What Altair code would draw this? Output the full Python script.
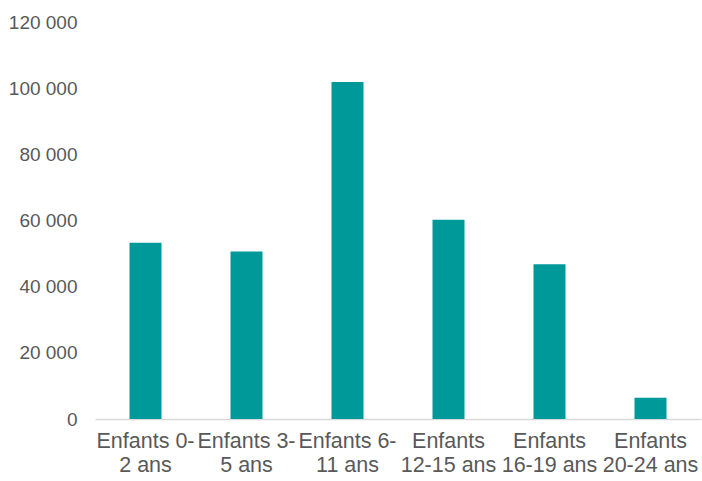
import altair as alt
import pandas as pd

categories = ["Enfants 0-\n2 ans", "Enfants 3-\n5 ans", "Enfants 6-\n11 ans",
              "Enfants\n12-15 ans", "Enfants\n16-19 ans", "Enfants\n20-24 ans"]
values = [53300, 50600, 101900, 60200, 46800, 6400]

df = pd.DataFrame({"cat": categories, "val": values})

chart = alt.Chart(df).mark_bar(color="#009999", size=32).encode(
    x=alt.X("cat:N", sort=None, title=None,
            scale=alt.Scale(paddingOuter=0, paddingInner=0),
            axis=alt.Axis(labelAngle=0, ticks=False, domainColor="#d9d9d9", domainWidth=1.5,
                          labelExpr="split(datum.label, '\\n')", labelFontSize=21.5,
                          labelLineHeight=24, labelColor="#595959", labelFont="Liberation Sans",
                          labelPadding=11, labelBaseline="top")),
    y=alt.Y("val:Q", title=None,
            scale=alt.Scale(domain=[0, 120000], nice=False),
            axis=alt.Axis(values=[0, 20000, 40000, 60000, 80000, 100000, 120000],
                          labelExpr="replace(format(datum.value, ',d'), ',', ' ')",
                          grid=False, ticks=False, domain=False, labelFontSize=19,
                          labelColor="#595959", labelFont="Liberation Sans", labelPadding=18))
).properties(
    width=606, height=397,
    padding={"left": 95, "top": 22, "right": 1, "bottom": 62},
    autosize=alt.AutoSizeParams(type="none")
).configure_view(stroke=None)

chart.save("out.html", embed_options={"renderer": "svg", "actions": False})
